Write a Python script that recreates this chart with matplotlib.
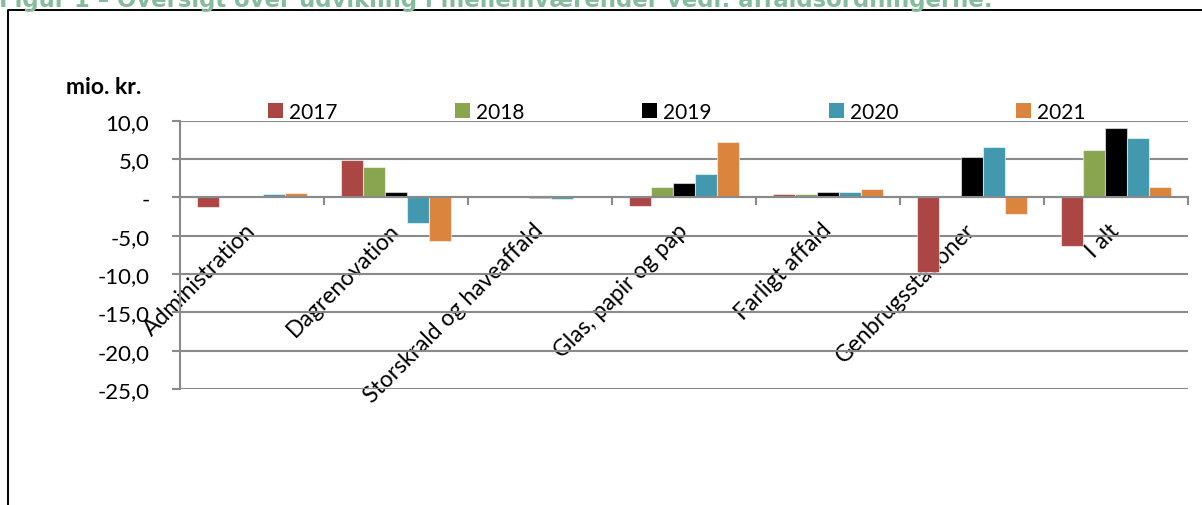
import matplotlib
matplotlib.use("Agg")
import matplotlib.pyplot as plt
from matplotlib.patches import Patch
from matplotlib.lines import Line2D
import numpy as np

categories = ["Administration", "Dagrenovation", "Storskrald og haveaffald",
              "Glas, papir og pap", "Farligt affald", "Genbrugsstationer", "I alt"]
years = ["2017", "2018", "2019", "2020", "2021"]
v2017 = [-1.2, 4.9, 0.0, -1.1, 0.4, -9.8, -6.3]
v2018 = [0.0, 4.0, 0.0, 1.35, 0.5, 0.0, 6.2]
v2019 = [0.2, 0.65, -0.1, 1.9, 0.65, 5.3, 9.0]
v2020 = [0.5, -3.4, -0.2, 3.0, 0.75, 6.6, 7.7]
v2021 = [0.6, -5.7, 0.0, 7.2, 1.1, -2.2, 1.4]
series = [v2017, v2018, v2019, v2020, v2021]
colors = ["#AA4643", "#89A54E", "#000000", "#4198AF", "#DB843D"]
yticks = [-25, -20, -15, -10, -5, 0, 5, 10]

title = "Figur 1 \u2013 Oversigt over udvikling i mellemværender vedr. affaldsordningerne."

W, H = 1202, 506
fig = plt.figure(figsize=(W / 100, H / 100), dpi=100)
FONT = "Lato"
FS = 16
GRID = "#8a8a8a"

ax = fig.add_axes([180 / W, 1 - 390 / H, (1188 - 180) / W, (390 - 121.7) / H])

n = len(categories)
x = np.arange(n)
bw = 0.153
for i, (vals, c) in enumerate(zip(series, colors)):
    ax.bar(x + (i - 2) * bw, vals, width=bw, color=c,
           edgecolor=(1, 1, 1, 0.55), linewidth=0.8, zorder=2)

ax.set_xlim(-0.5, n - 0.5)
ax.set_ylim(-25, 10)
ax.set_yticks(yticks)
ax.set_yticklabels(["-" if v == 0 else f"{v:.1f}".replace(".", ",") for v in yticks],
                   fontfamily=FONT, fontsize=FS)
ax.yaxis.grid(True, color=GRID, linewidth=1.5)
ax.set_axisbelow(True)

for s in ["top", "right"]:
    ax.spines[s].set_visible(False)
ax.spines["left"].set_color(GRID)
ax.spines["left"].set_linewidth(1.5)
ax.spines["bottom"].set_position(("data", 0))
ax.spines["bottom"].set_color(GRID)
ax.spines["bottom"].set_linewidth(1.5)
ax.spines["bottom"].set_zorder(3)

ax.set_xticks(np.arange(-0.5, n, 1.0))
ax.set_xticklabels([])
ax.set_xticks(x, minor=True)
ax.set_xticklabels(categories, minor=True, rotation=45, ha="right", va="center",
                   rotation_mode="anchor", fontfamily=FONT, fontsize=16.5)
ax.tick_params(axis="x", which="major", length=5.5, width=1.5, color=GRID, direction="out")
ax.tick_params(axis="x", which="minor", length=0, pad=21)
ax.tick_params(axis="y", length=6, width=1.5, color=GRID, pad=16)

handles = [Patch(facecolor=c, edgecolor="none") for c in colors]
fig.legend(handles, years, loc="center left", bbox_to_anchor=(268 / W, 1 - 113 / H),
           ncol=5, frameon=False, borderpad=0, borderaxespad=0,
           handlelength=0.7, handleheight=0.7, handletextpad=0.3,
           columnspacing=5.65, prop={"family": FONT, "size": 15})

fig.text(66 / W, 1 - 88 / H, "mio. kr.", fontfamily=FONT, fontsize=16.5,
         fontweight="bold", va="center", ha="left")

fig.text(-1 / W, 1 - 6.5 / H, title, fontfamily="DejaVu Sans", fontweight="bold",
         fontsize=16.4, color="#86BC9E", va="baseline", ha="left")

fig.add_artist(Line2D([7.5 / W, 7.5 / W, 1.0], [0, 1 - 10.5 / H, 1 - 10.5 / H],
                      transform=fig.transFigure, color="black", linewidth=1.4))

fig.savefig("out.png", dpi=100)
